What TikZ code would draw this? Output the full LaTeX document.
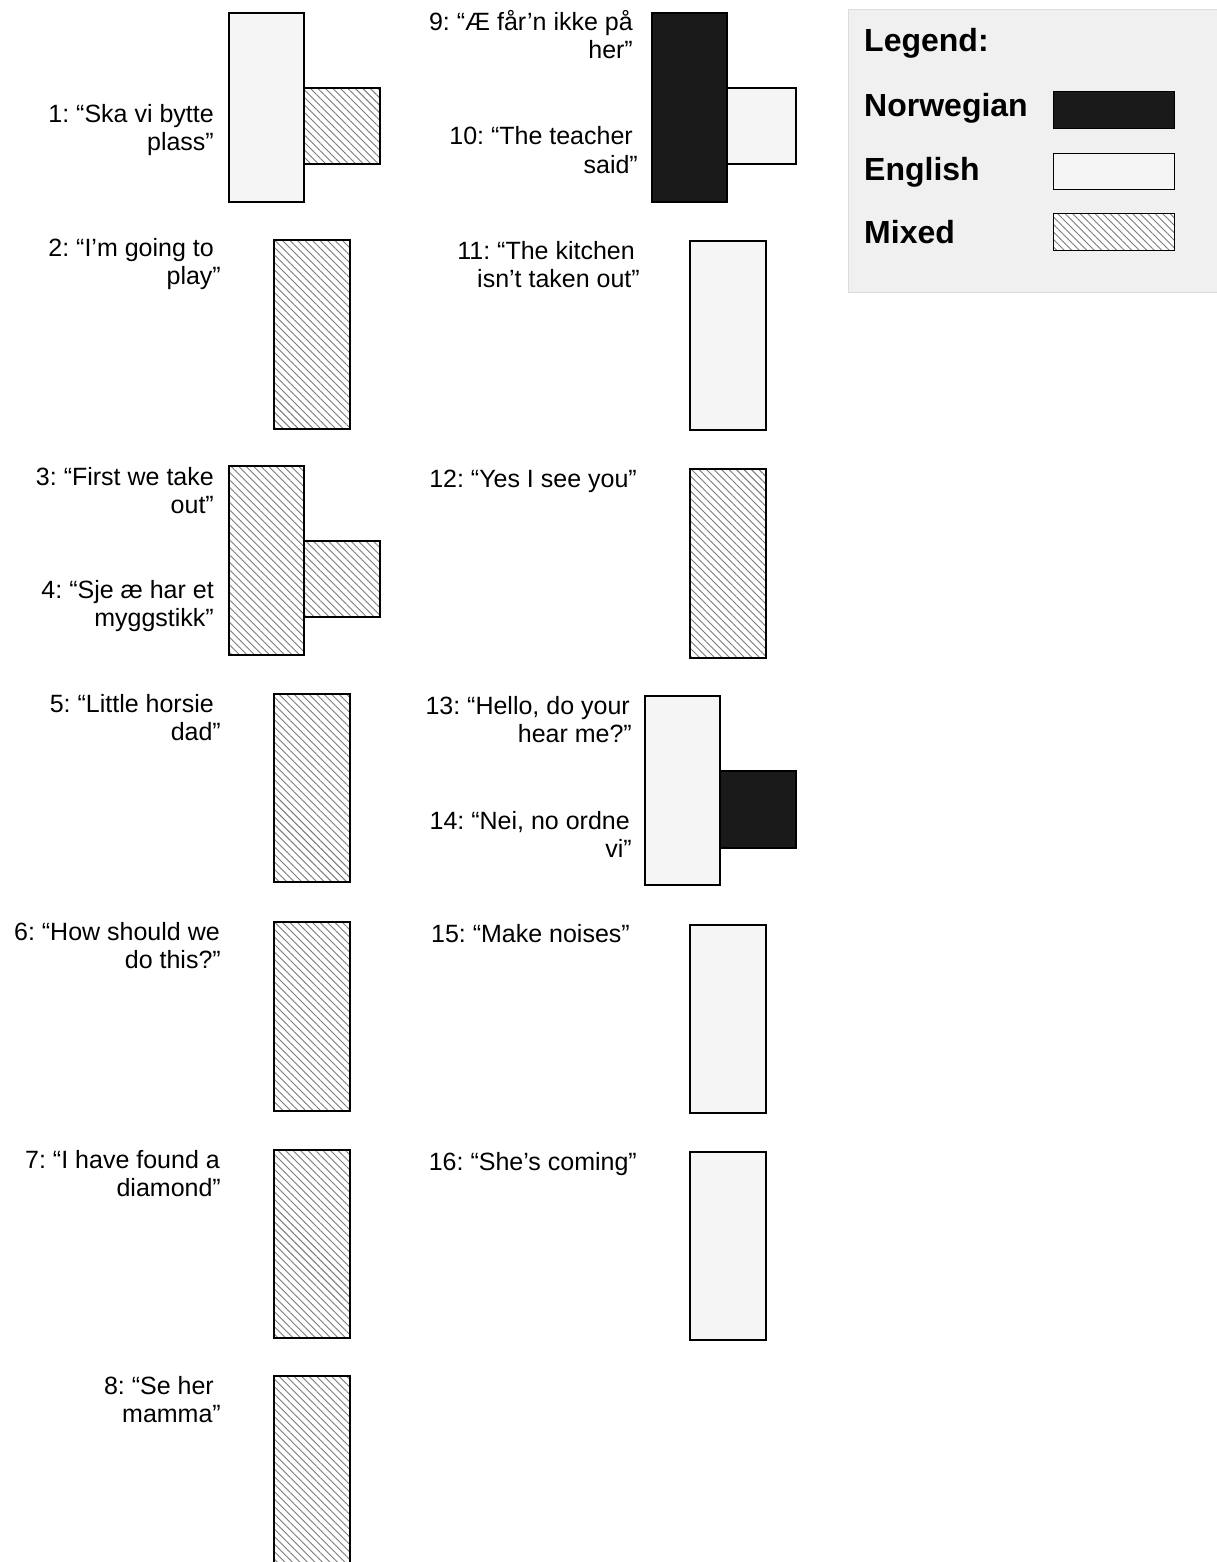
\documentclass[tikz,border=0pt]{standalone}
\usepackage{fontspec}
\setmainfont{Liberation Sans}
\frenchspacing
\usetikzlibrary{patterns.meta}
\definecolor{norfill}{HTML}{1A1A1A}
\definecolor{engfill}{HTML}{F5F5F5}
\definecolor{hatchcol}{HTML}{7A7A7A}
\definecolor{legbg}{HTML}{F0F0F0}
\definecolor{legborder}{HTML}{DCDCDC}
\tikzset{
  boxbase/.style={anchor=north west, inner sep=0pt, outer sep=0pt, draw=black, line width=1.4bp},
  nor/.style={boxbase, fill=norfill},
  eng/.style={boxbase, fill=engfill},
  mix/.style={boxbase, preaction={fill=white}, pattern={Lines[angle=-45,distance=5.3bp,line width=0.9bp]}, pattern color=hatchcol},
  lbl/.style={anchor=base east, inner sep=0pt, font=\fontsize{25bp}{28bp}\selectfont\frenchspacing},
  legtxt/.style={anchor=base west, inner sep=0pt, font=\fontsize{32bp}{36bp}\selectfont\bfseries},
  swatch/.style={line width=0.9bp}
}
\newcommand{\bx}[6]{\node[#2, minimum width=#5bp, minimum height=#6bp] (#1) at (#3,#4) {};}
\begin{document}
\begin{tikzpicture}[x=1bp,y=-1bp]
\useasboundingbox (0,0) rectangle (1216,1562);
% left column boxes
\bx{b1}{eng}{229}{13}{75}{189}
\bx{b1s}{mix}{304}{88}{76}{76}
\bx{b2}{mix}{274}{240}{76}{189}
\bx{b3}{mix}{229}{466}{75}{189}
\bx{b3s}{mix}{304}{541}{76}{76}
\bx{b5}{mix}{274}{694}{76}{188}
\bx{b6}{mix}{274}{922}{76}{189}
\bx{b7}{mix}{274}{1150}{76}{188}
\bx{b8}{mix}{274}{1376}{76}{200}
% right column boxes
\bx{b9}{nor}{652}{13}{75}{189}
\bx{b9s}{eng}{727}{88}{69}{76}
\bx{b11}{eng}{690}{241}{76}{189}
\bx{b12}{mix}{690}{469}{76}{189}
\bx{b13}{eng}{645}{696}{75}{189}
\bx{b13s}{nor}{720}{771}{76}{77}
\bx{b15}{eng}{690}{925}{76}{188}
\bx{b16}{eng}{690}{1152}{76}{188}
% left labels
\node[lbl] (l1a) at (214,123) {1: “Ska vi bytte};
\node[lbl] (l1b) at (214,151) {plass”};
\node[lbl] (l2a) at (214,256) {2: “I’m going to};
\node[lbl] (l2b) at (221,284) {play”};
\node[lbl] (l3a) at (214,485) {3: “First we take};
\node[lbl] (l3b) at (214,513) {out”};
\node[lbl] (l4a) at (214,598) {4: “Sje æ har et};
\node[lbl] (l4b) at (214,626) {myggstikk”};
\node[lbl] (l5a) at (214,712) {5: “Little horsie};
\node[lbl] (l5b) at (221,740) {dad”};
\node[lbl] (l6a) at (220,940) {6: “How should we};
\node[lbl] (l6b) at (221,968) {do this?”};
\node[lbl] (l7a) at (220,1168) {7: “I have found a};
\node[lbl] (l7b) at (221,1196) {diamond”};
\node[lbl] (l8a) at (214,1394) {8: “Se her};
\node[lbl] (l8b) at (221,1422) {mamma”};
% right labels
\node[lbl] (l9a) at (633,31) {9: “Æ får’n ikke på};
\node[lbl] (l9b) at (633,59) {her”};
\node[lbl] (l10a) at (633,145) {10: “The teacher};
\node[lbl] (l10b) at (638,173) {said”};
\node[lbl] (l11a) at (635,259) {11: “The kitchen};
\node[lbl] (l11b) at (640,287) {isn’t taken out”};
\node[lbl] (l12) at (637,487) {12: “Yes I see you”};
\node[lbl] (l13a) at (630,714) {13: “Hello, do your};
\node[lbl] (l13b) at (632,742) {hear me?”};
\node[lbl] (l14a) at (630,829) {14: “Nei, no ordne};
\node[lbl] (l14b) at (632,857) {vi”};
\node[lbl] (l15) at (630,942) {15: “Make noises”};
\node[lbl] (l16) at (637,1170) {16: “She’s coming”};
% legend
\node[anchor=north west, inner sep=0pt, outer sep=0pt, draw=legborder, fill=legbg, line width=0.8bp, minimum width=380bp, minimum height=283bp] (leg) at (848,9) {};
\node[legtxt] (lgt) at (864,52) {Legend:};
\node[legtxt] (lgn) at (864,117) {Norwegian};
\node[legtxt] (lge) at (864,180) {English};
\node[legtxt] (lgm) at (864,243) {Mixed};
\node[nor, swatch, minimum width=121bp, minimum height=37bp] (swn) at (1053,91) {};
\node[eng, swatch, minimum width=121bp, minimum height=36bp] (swe) at (1053,153) {};
\node[mix, swatch, minimum width=121bp, minimum height=37bp] (swm) at (1053,213) {};
\end{tikzpicture}
\end{document}
